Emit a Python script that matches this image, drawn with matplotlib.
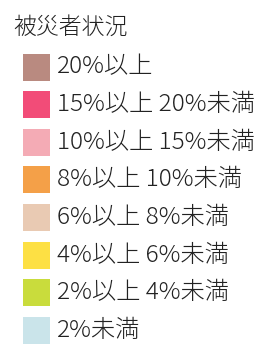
import matplotlib
matplotlib.use("Agg")
import matplotlib.pyplot as plt
from matplotlib.patches import Rectangle

plt.rcParams['font.family'] = ['Noto Sans CJK JP', 'DejaVu Sans']

title = "被災者状況"
labels = ["20%以上", "15%以上 20%未満", "10%以上 15%未満", "8%以上 10%未満",
          "6%以上 8%未満", "4%以上 6%未満", "2%以上 4%未満", "2%未満"]
colors = ["#b98a80", "#f24c78", "#f4abb5", "#f4a048", "#e9cab3",
          "#fde044", "#c9dc3c", "#cae4ea"]

W, H = 271, 357
fig = plt.figure(figsize=(W / 100, H / 100), dpi=100)
fig.patch.set_facecolor("white")
ax = fig.add_axes([0, 0, 1, 1])
ax.set_xlim(0, W)
ax.set_ylim(H, 0)
ax.axis("off")

ax.text(13, 27, title, fontsize=16.5, va="center", ha="left", color="#222222",
        fontweight="light")
y0, dy, sq = 67, 37.6, 27
for i, (lab, c) in enumerate(zip(labels, colors)):
    yc = y0 + i * dy
    ax.add_patch(Rectangle((23, yc - sq / 2), sq, sq, facecolor=c, edgecolor="none"))
    ax.text(57, yc, lab, fontsize=17.5, va="center", ha="left", color="#222222",
            fontweight="light")

fig.savefig("out.png", dpi=100, facecolor="white")
